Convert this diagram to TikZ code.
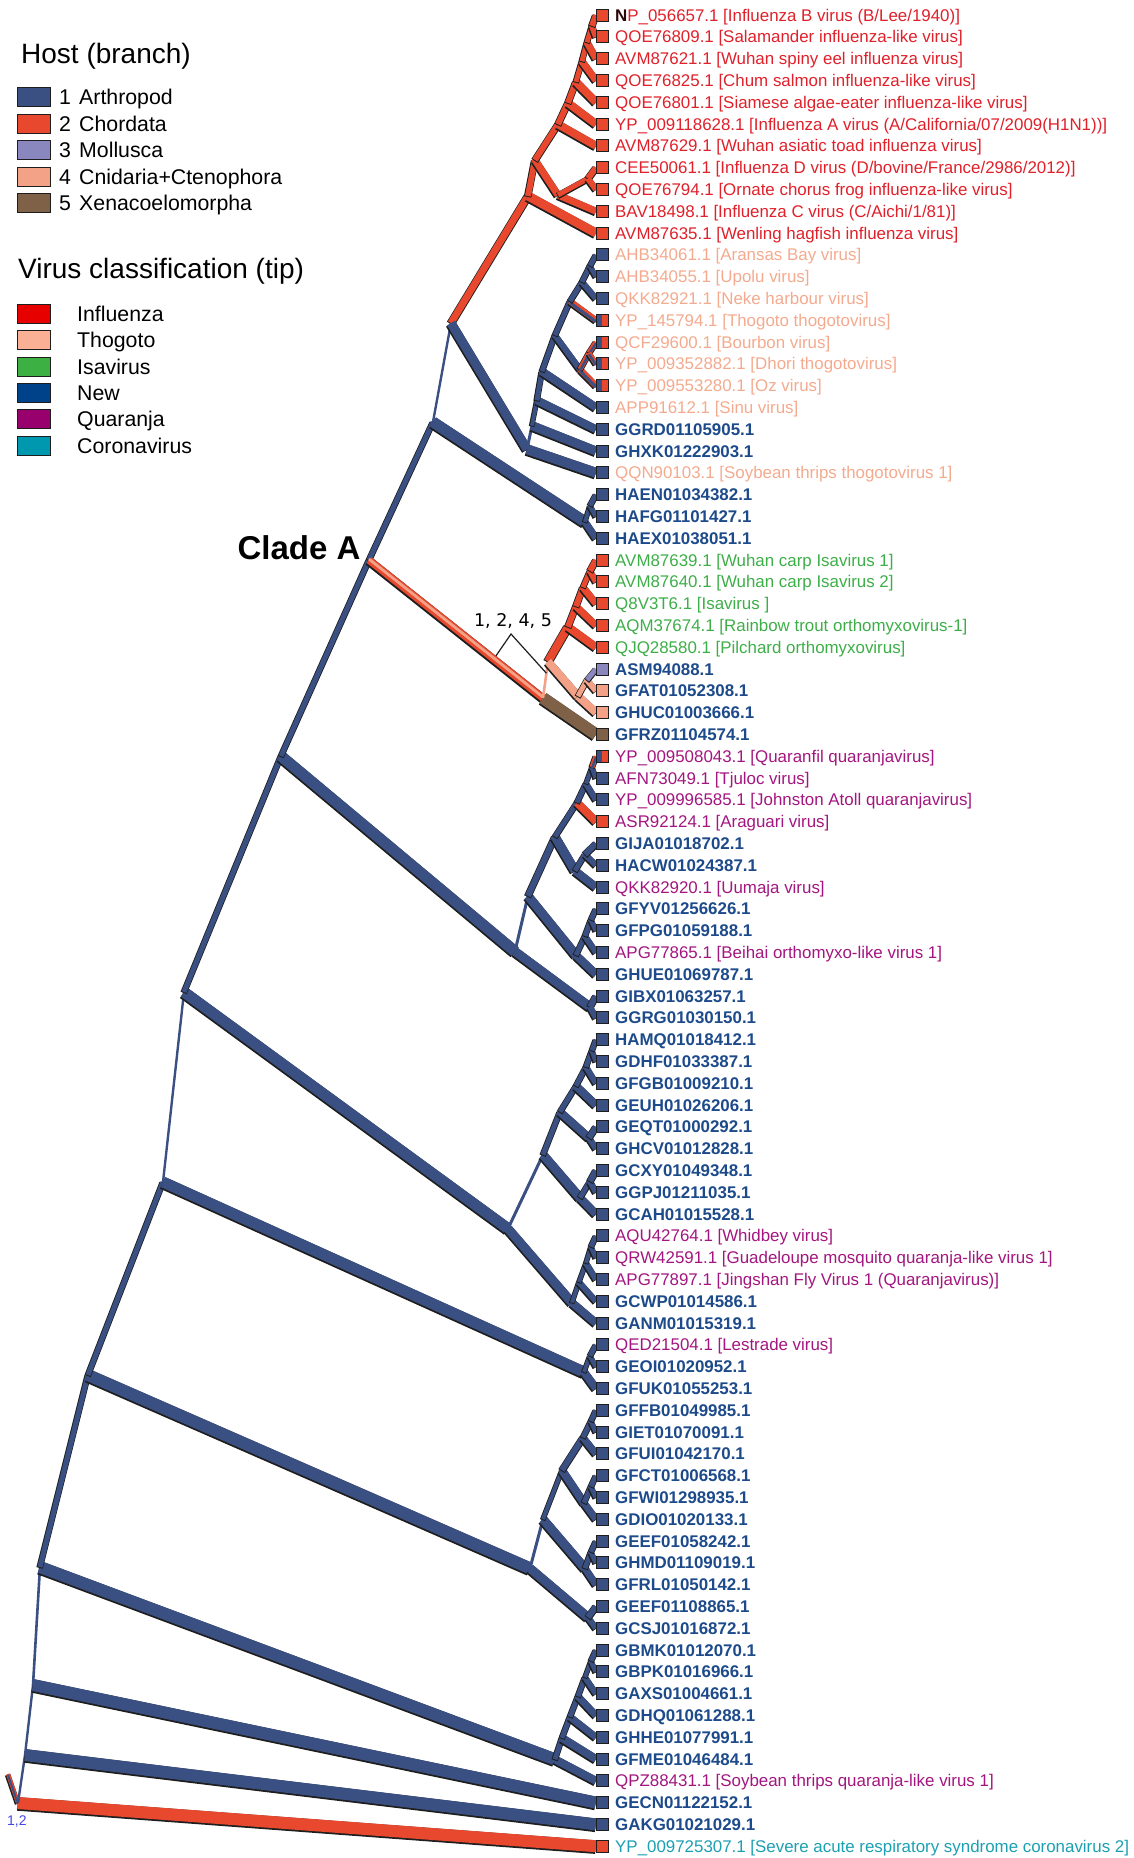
\documentclass[tikz,border=0pt]{standalone}
\usepackage{fontspec}
\setmainfont{Liberation Sans}
\newfontfamily\dejavu{DejaVu Sans}
\usetikzlibrary{calc}

\definecolor{arth}{HTML}{3A4F82}
\definecolor{chord}{HTML}{E8492E}
\definecolor{moll}{HTML}{8A86BE}
\definecolor{cnid}{HTML}{F4A287}
\definecolor{xena}{HTML}{7E6147}
\definecolor{brdk}{HTML}{1E1E1E}
\definecolor{flutxt}{HTML}{E0202A}
\definecolor{thogtxt}{HTML}{F4AA8E}
\definecolor{isatxt}{HTML}{3DAE48}
\definecolor{newtxt}{HTML}{1D4A8A}
\definecolor{quartxt}{HTML}{A3167F}
\definecolor{covtxt}{HTML}{1BA0B2}
\definecolor{flubox}{HTML}{E60000}
\definecolor{thogbox}{HTML}{F9B094}
\definecolor{isabox}{HTML}{3DB043}
\definecolor{newbox}{HTML}{00428A}
\definecolor{quarbox}{HTML}{98006E}
\definecolor{covbox}{HTML}{0098AE}
\definecolor{rootlbl}{HTML}{4646E6}

\tikzset{
  tipbox/.style={rectangle, draw=brdk, line width=0.9, minimum size=12, inner sep=0},
  halfbox/.style={fill=arth, path picture={\fill[chord] (path picture bounding box.north) rectangle (path picture bounding box.south east);}},
  lab/.style={anchor=base west, inner sep=0, font=\fontsize{16.9}{20}\selectfont},
  virflu/.style={lab, text=flutxt},
  virthog/.style={lab, text=thogtxt},
  virisa/.style={lab, text=isatxt},
  virnew/.style={lab, text=newtxt, font=\fontsize{16.9}{20}\selectfont\bfseries},
  virquar/.style={lab, text=quartxt},
  vircov/.style={lab, text=covtxt},
  legbox/.style={rectangle, draw=brdk, line width=1, minimum width=33, minimum height=19, inner sep=0},
  legtext/.style={anchor=base west, inner sep=0, font=\fontsize{21.3}{25}\selectfont},
  legtitle/.style={anchor=base west, inner sep=0, font=\fontsize{28}{32}\selectfont}
}

% branch: [width]{colour}{from}{to}
\newcommand\br[4][6]{%
  \ifdim #1pt>3pt
    \draw[brdk, line width=#1+1.6, transform canvas={xshift=-0.4pt, yshift=-0.9pt}] (#3) -- (#4);
  \fi
  \draw[#2, line width=#1] (#3) -- (#4);}
% branch shared by arthropod and chordate hosts
\newcommand\brs[3][6]{%
  \draw[brdk, line width=#1+1.6, transform canvas={xshift=-0.4pt, yshift=-0.9pt}] (#2) -- (#3);
  \draw[chord, line width=#1] (#2) -- (#3);
  \draw[arth, line width=#1/2, transform canvas={yshift={-#1*0.25pt}}] (#2) -- (#3);}
% tip: number, square, label style, text
\newcommand\tip[4]{%
  \node[tipbox,#2] (s#1) at (602,{15+(#1-1)*21.8}) {};
  \node[#3] (l#1) at (615,{21+(#1-1)*21.8}) {#4};}

\begin{document}
\begin{tikzpicture}[x=1pt,y=-1pt]
\useasboundingbox (0,0) rectangle (1133,1858);
\foreach \i in {1,...,85}
  \coordinate (t\i) at (596,{15+(\i-1)*21.8});

\coordinate (rs) at (8,1774);
\coordinate (R) at (18,1803);
\coordinate (B1) at (25,1755);
\coordinate (B2) at (33,1685);
\coordinate (B3) at (40,1567);
\coordinate (B4) at (88,1375);
\coordinate (B5) at (163,1182);
\coordinate (B6) at (184,992);
\coordinate (B7) at (281,756);
\coordinate (B8) at (369,560);
\coordinate (B9) at (433,422);
\coordinate (B10) at (451,323);

\coordinate (F1) at (528,196);
\coordinate (F2) at (535,160);
\coordinate (F3) at (558,195);
\coordinate (F3a) at (588,178.5);
\coordinate (F4) at (558,124.3);
\coordinate (c5) at (568,102.9);
\coordinate (c4) at (576,81.8);
\coordinate (c3) at (582,61.3);
\coordinate (c2) at (587,42.3);
\coordinate (c1) at (592,25.9);

\coordinate (T0) at (527,449.2);
\coordinate (T1) at (532,425.6);
\coordinate (T2) at (537,400.3);
\coordinate (T3) at (542,371.3);
\coordinate (T4) at (555,335.2);
\coordinate (Tt) at (570,301.2);
\coordinate (Tt2) at (582,282);
\coordinate (Tt3) at (590,265.7);
\coordinate (Td) at (580,369.3);
\coordinate (Td2) at (589,352.9);
\coordinate (Hn) at (585,521.9);
\coordinate (Hn2) at (590,505.5);

\coordinate (CA1) at (543,698);
\coordinate (CA2) at (548,661.5);
\coordinate (I0) at (568,626.8);
\coordinate (I1) at (576,606.3);
\coordinate (I2) at (583,587.3);
\coordinate (I3) at (590,570.9);
\coordinate (S0) at (578,696.2);
\coordinate (S1) at (587,679.9);

\coordinate (Q0) at (515,951.4);
\coordinate (Q1) at (528,895.9);
\coordinate (Q2) at (555,836.6);
\coordinate (Q3) at (577,802.5);
\coordinate (Q4) at (586,783.5);
\coordinate (Q5) at (592,767.1);
\coordinate (Qj) at (575,870.7);
\coordinate (Qi) at (585,854.3);
\coordinate (Qh) at (576,955.1);
\coordinate (Qh2) at (585,936);
\coordinate (Qh3) at (591,919.7);
\coordinate (Qg) at (590,1006.9);

\coordinate (P) at (508,1228.6);
\coordinate (P1) at (543,1154.7);
\coordinate (P1b) at (560,1111.8);
\coordinate (P1c) at (576,1085.9);
\coordinate (P1d) at (586,1066.9);
\coordinate (P1e) at (592,1050.5);
\coordinate (Pe) at (589,1137.7);
\coordinate (Pc) at (580,1197.7);
\coordinate (Pd) at (590,1181.3);
\coordinate (P2) at (572,1302.6);
\coordinate (P3) at (579,1282.1);
\coordinate (P4) at (586,1263);
\coordinate (P5) at (591,1246.7);

\coordinate (Qn) at (584,1372);
\coordinate (Qn2) at (590,1355.7);

\coordinate (H) at (530,1568.3);
\coordinate (H1) at (543,1519.2);
\coordinate (H2) at (562,1470.2);
\coordinate (He) at (583,1437.5);
\coordinate (He2) at (591,1421.1);
\coordinate (Hd) at (584,1502.9);
\coordinate (Hd2) at (591,1486.5);
\coordinate (Hc) at (585,1568.3);
\coordinate (Hc2) at (591,1551.9);
\coordinate (Hb) at (588,1617.3);

\coordinate (G) at (555,1759.3);
\coordinate (G1) at (562,1737.9);
\coordinate (G2) at (570,1716.8);
\coordinate (G3) at (578,1696.3);
\coordinate (G4) at (585,1677.3);
\coordinate (G5) at (591,1660.9);

% backbone
\brs[4]{rs}{R}
\br[12]{chord}{R}{t85}
\br[2.4]{arth}{R}{B1}
\br[12]{arth}{B1}{t84}
\br[2.4]{arth}{B1}{B2}
\br[12]{arth}{B2}{t83}
\br[2.6]{arth}{B2}{B3}
\br[12]{arth}{B3}{G}
\br[5]{arth}{B3}{B4}
\br[12]{arth}{B4}{H}
\br[5]{arth}{B4}{B5}
\br[11]{arth}{B5}{Qn}
\br[2.4]{arth}{B5}{B6}
\br[11]{arth}{B6}{P}
\br[5]{arth}{B6}{B7}
\br[11]{arth}{B7}{Q0}
\br[5]{arth}{B7}{B8}
\br[5]{arth}{B8}{B9}
\br[11]{arth}{B9}{Hn}
\br[2.4]{arth}{B9}{B10}
\br[7]{chord}{B10}{F1}
\br[9]{arth}{B10}{T0}

% influenza
\br[9]{chord}{F1}{t11}
\br[6]{chord}{F1}{F2}
\br[7]{chord}{F2}{F3}
\br[7]{chord}{F3}{t10}
\br[5]{chord}{F3}{F3a}
\br[6]{chord}{F3a}{t8}
\br[6]{chord}{F3a}{t9}
\br[6]{chord}{F2}{F4}
\br[8]{chord}{F4}{t7}
\br[6]{chord}{F4}{c5}
\br[8]{chord}{c5}{t6}
\br[6]{chord}{c5}{c4}
\br[8]{chord}{c4}{t5}
\br[5]{chord}{c4}{c3}
\br[7]{chord}{c3}{t4}
\br[5]{chord}{c3}{c2}
\br[7]{chord}{c2}{t3}
\br[5]{chord}{c2}{c1}
\br[6]{chord}{c1}{t2}
\br[6]{chord}{c1}{t1}

% thogoto
\br[10]{arth}{T0}{t22}
\br[3]{arth}{T0}{T1}
\br[9]{arth}{T1}{t21}
\br[4]{arth}{T1}{T2}
\br[8]{arth}{T2}{t20}
\br[5]{arth}{T2}{T3}
\br[8]{arth}{T3}{t19}
\br[5]{arth}{T3}{T4}
\br[6]{arth}{T4}{Td}
\brs[6]{Td}{t18}
\brs[5]{Td}{Td2}
\brs[5]{Td2}{t16}
\brs[5]{Td2}{t17}
\br[5]{arth}{T4}{Tt}
\brs[6]{Tt}{t15}
\br[5]{arth}{Tt}{Tt2}
\br[6]{arth}{Tt2}{t14}
\br[5]{arth}{Tt2}{Tt3}
\br[5]{arth}{Tt3}{t13}
\br[5]{arth}{Tt3}{t12}
\br[7]{arth}{Hn}{t25}
\br[4]{arth}{Hn}{Hn2}
\br[5]{arth}{Hn2}{t24}
\br[5]{arth}{Hn2}{t23}

% clade A
\draw[brdk, line width=9.4, transform canvas={xshift=-0.4pt, yshift=-0.9pt}] (B8) -- (CA1);
\draw[chord, line width=7.4] (B8) -- (CA1);
\draw[cnid, line width=2.8, transform canvas={yshift=0.9pt}] (B8) -- (CA1);
\br[12]{xena}{CA1}{t34}
\br[2.6]{cnid}{CA1}{CA2}
\br[8]{chord}{CA2}{I0}
\br[8]{chord}{I0}{t30}
\br[6]{chord}{I0}{I1}
\br[7]{chord}{I1}{t29}
\br[6]{chord}{I1}{I2}
\br[7]{chord}{I2}{t28}
\br[5]{chord}{I2}{I3}
\br[6]{chord}{I3}{t27}
\br[6]{chord}{I3}{t26}
\br[8]{cnid}{CA2}{S0}
\br[8]{cnid}{S0}{t33}
\br[5]{cnid}{S0}{S1}
\br[6]{cnid}{S1}{t32}
\br[5]{moll}{S1}{t31}

% quaranja
\br[9]{arth}{Q0}{Qg}
\br[6]{arth}{Qg}{t46}
\br[6]{arth}{Qg}{t47}
\br[3]{arth}{Q0}{Q1}
\br[9]{arth}{Q1}{Qh}
\br[8]{arth}{Qh}{t45}
\br[5]{arth}{Qh}{Qh2}
\br[6]{arth}{Qh2}{t44}
\br[5]{arth}{Qh2}{Qh3}
\br[5]{arth}{Qh3}{t43}
\br[5]{arth}{Qh3}{t42}
\br[6]{arth}{Q1}{Q2}
\br[9]{arth}{Q2}{Qj}
\br[8]{arth}{Qj}{t41}
\br[5]{arth}{Qj}{Qi}
\br[6]{arth}{Qi}{t40}
\br[6]{arth}{Qi}{t39}
\br[5]{arth}{Q2}{Q3}
\br[8]{chord}{Q3}{t38}
\br[5]{arth}{Q3}{Q4}
\br[6]{arth}{Q4}{t37}
\br[4]{arth}{Q4}{Q5}
\br[5]{arth}{Q5}{t36}
\brs[5]{Q5}{t35}

\br[3]{arth}{P}{P1}
\br[9]{arth}{P1}{Pc}
\br[8]{arth}{Pc}{t56}
\br[5]{arth}{Pc}{Pd}
\br[6]{arth}{Pd}{t55}
\br[6]{arth}{Pd}{t54}
\br[5]{arth}{P1}{P1b}
\br[8]{arth}{P1b}{Pe}
\br[6]{arth}{Pe}{t53}
\br[6]{arth}{Pe}{t52}
\br[5]{arth}{P1b}{P1c}
\br[8]{arth}{P1c}{t51}
\br[5]{arth}{P1c}{P1d}
\br[6]{arth}{P1d}{t50}
\br[5]{arth}{P1d}{P1e}
\br[5]{arth}{P1e}{t49}
\br[5]{arth}{P1e}{t48}
\br[9]{arth}{P}{P2}
\br[8]{arth}{P2}{t61}
\br[4]{arth}{P2}{P3}
\br[6]{arth}{P3}{t60}
\br[4]{arth}{P3}{P4}
\br[6]{arth}{P4}{t59}
\br[4]{arth}{P4}{P5}
\br[5]{arth}{P5}{t58}
\br[5]{arth}{P5}{t57}

\br[8]{arth}{Qn}{t64}
\br[4]{arth}{Qn}{Qn2}
\br[5]{arth}{Qn2}{t63}
\br[5]{arth}{Qn2}{t62}

\br[9]{arth}{H}{Hb}
\br[6]{arth}{Hb}{t75}
\br[6]{arth}{Hb}{t74}
\br[3]{arth}{H}{H1}
\br[9]{arth}{H1}{Hc}
\br[7]{arth}{Hc}{t73}
\br[5]{arth}{Hc}{Hc2}
\br[5]{arth}{Hc2}{t72}
\br[5]{arth}{Hc2}{t71}
\br[4]{arth}{H1}{H2}
\br[8]{arth}{H2}{Hd}
\br[7]{arth}{Hd}{t70}
\br[5]{arth}{Hd}{Hd2}
\br[5]{arth}{Hd2}{t69}
\br[5]{arth}{Hd2}{t68}
\br[6]{arth}{H2}{He}
\br[7]{arth}{He}{t67}
\br[5]{arth}{He}{He2}
\br[5]{arth}{He2}{t66}
\br[5]{arth}{He2}{t65}

\br[8]{arth}{G}{t82}
\br[5]{arth}{G}{G1}
\br[8]{arth}{G1}{t81}
\br[5]{arth}{G1}{G2}
\br[7]{arth}{G2}{t80}
\br[5]{arth}{G2}{G3}
\br[7]{arth}{G3}{t79}
\br[5]{arth}{G3}{G4}
\br[6]{arth}{G4}{t78}
\br[4]{arth}{G4}{G5}
\br[5]{arth}{G5}{t77}
\br[5]{arth}{G5}{t76}

% tips
\tip{1}{fill=chord}{virflu}{{\color{black!80!flutxt}\bfseries N}P\_056657.1 [Influenza B virus (B/Lee/1940)]}
\tip{2}{fill=chord}{virflu}{QOE76809.1 [Salamander influenza-like virus]}
\tip{3}{fill=chord}{virflu}{AVM87621.1 [Wuhan spiny eel influenza virus]}
\tip{4}{fill=chord}{virflu}{QOE76825.1 [Chum salmon influenza-like virus]}
\tip{5}{fill=chord}{virflu}{QOE76801.1 [Siamese algae-eater influenza-like virus]}
\tip{6}{fill=chord}{virflu}{YP\_009118628.1 [Influenza A virus (A/California/07/2009(H1N1))]}
\tip{7}{fill=chord}{virflu}{AVM87629.1 [Wuhan asiatic toad influenza virus]}
\tip{8}{fill=chord}{virflu}{CEE50061.1 [Influenza D virus (D/bovine/France/2986/2012)]}
\tip{9}{fill=chord}{virflu}{QOE76794.1 [Ornate chorus frog influenza-like virus]}
\tip{10}{fill=chord}{virflu}{BAV18498.1 [Influenza C virus (C/Aichi/1/81)]}
\tip{11}{fill=chord}{virflu}{AVM87635.1 [Wenling hagfish influenza virus]}
\tip{12}{fill=arth}{virthog}{AHB34061.1 [Aransas Bay virus]}
\tip{13}{fill=arth}{virthog}{AHB34055.1 [Upolu virus]}
\tip{14}{fill=arth}{virthog}{QKK82921.1 [Neke harbour virus]}
\tip{15}{halfbox}{virthog}{YP\_145794.1 [Thogoto thogotovirus]}
\tip{16}{halfbox}{virthog}{QCF29600.1 [Bourbon virus]}
\tip{17}{halfbox}{virthog}{YP\_009352882.1 [Dhori thogotovirus]}
\tip{18}{halfbox}{virthog}{YP\_009553280.1 [Oz virus]}
\tip{19}{fill=arth}{virthog}{APP91612.1 [Sinu virus]}
\tip{20}{fill=arth}{virnew}{GGRD01105905.1}
\tip{21}{fill=arth}{virnew}{GHXK01222903.1}
\tip{22}{fill=arth}{virthog}{QQN90103.1 [Soybean thrips thogotovirus 1]}
\tip{23}{fill=arth}{virnew}{HAEN01034382.1}
\tip{24}{fill=arth}{virnew}{HAFG01101427.1}
\tip{25}{fill=arth}{virnew}{HAEX01038051.1}
\tip{26}{fill=chord}{virisa}{AVM87639.1 [Wuhan carp Isavirus 1]}
\tip{27}{fill=chord}{virisa}{AVM87640.1 [Wuhan carp Isavirus 2]}
\tip{28}{fill=chord}{virisa}{Q8V3T6.1 [Isavirus ]}
\tip{29}{fill=chord}{virisa}{AQM37674.1 [Rainbow trout orthomyxovirus-1]}
\tip{30}{fill=chord}{virisa}{QJQ28580.1 [Pilchard orthomyxovirus]}
\tip{31}{fill=moll}{virnew}{ASM94088.1}
\tip{32}{fill=cnid}{virnew}{GFAT01052308.1}
\tip{33}{fill=cnid}{virnew}{GHUC01003666.1}
\tip{34}{fill=xena}{virnew}{GFRZ01104574.1}
\tip{35}{halfbox}{virquar}{YP\_009508043.1 [Quaranfil quaranjavirus]}
\tip{36}{fill=arth}{virquar}{AFN73049.1 [Tjuloc virus]}
\tip{37}{fill=arth}{virquar}{YP\_009996585.1 [Johnston Atoll quaranjavirus]}
\tip{38}{fill=chord}{virquar}{ASR92124.1 [Araguari virus]}
\tip{39}{fill=arth}{virnew}{GIJA01018702.1}
\tip{40}{fill=arth}{virnew}{HACW01024387.1}
\tip{41}{fill=arth}{virquar}{QKK82920.1 [Uumaja virus]}
\tip{42}{fill=arth}{virnew}{GFYV01256626.1}
\tip{43}{fill=arth}{virnew}{GFPG01059188.1}
\tip{44}{fill=arth}{virquar}{APG77865.1 [Beihai orthomyxo-like virus 1]}
\tip{45}{fill=arth}{virnew}{GHUE01069787.1}
\tip{46}{fill=arth}{virnew}{GIBX01063257.1}
\tip{47}{fill=arth}{virnew}{GGRG01030150.1}
\tip{48}{fill=arth}{virnew}{HAMQ01018412.1}
\tip{49}{fill=arth}{virnew}{GDHF01033387.1}
\tip{50}{fill=arth}{virnew}{GFGB01009210.1}
\tip{51}{fill=arth}{virnew}{GEUH01026206.1}
\tip{52}{fill=arth}{virnew}{GEQT01000292.1}
\tip{53}{fill=arth}{virnew}{GHCV01012828.1}
\tip{54}{fill=arth}{virnew}{GCXY01049348.1}
\tip{55}{fill=arth}{virnew}{GGPJ01211035.1}
\tip{56}{fill=arth}{virnew}{GCAH01015528.1}
\tip{57}{fill=arth}{virquar}{AQU42764.1 [Whidbey virus]}
\tip{58}{fill=arth}{virquar}{QRW42591.1 [Guadeloupe mosquito quaranja-like virus 1]}
\tip{59}{fill=arth}{virquar}{APG77897.1 [Jingshan Fly Virus 1 (Quaranjavirus)]}
\tip{60}{fill=arth}{virnew}{GCWP01014586.1}
\tip{61}{fill=arth}{virnew}{GANM01015319.1}
\tip{62}{fill=arth}{virquar}{QED21504.1 [Lestrade virus]}
\tip{63}{fill=arth}{virnew}{GEOI01020952.1}
\tip{64}{fill=arth}{virnew}{GFUK01055253.1}
\tip{65}{fill=arth}{virnew}{GFFB01049985.1}
\tip{66}{fill=arth}{virnew}{GIET01070091.1}
\tip{67}{fill=arth}{virnew}{GFUI01042170.1}
\tip{68}{fill=arth}{virnew}{GFCT01006568.1}
\tip{69}{fill=arth}{virnew}{GFWI01298935.1}
\tip{70}{fill=arth}{virnew}{GDIO01020133.1}
\tip{71}{fill=arth}{virnew}{GEEF01058242.1}
\tip{72}{fill=arth}{virnew}{GHMD01109019.1}
\tip{73}{fill=arth}{virnew}{GFRL01050142.1}
\tip{74}{fill=arth}{virnew}{GEEF01108865.1}
\tip{75}{fill=arth}{virnew}{GCSJ01016872.1}
\tip{76}{fill=arth}{virnew}{GBMK01012070.1}
\tip{77}{fill=arth}{virnew}{GBPK01016966.1}
\tip{78}{fill=arth}{virnew}{GAXS01004661.1}
\tip{79}{fill=arth}{virnew}{GDHQ01061288.1}
\tip{80}{fill=arth}{virnew}{GHHE01077991.1}
\tip{81}{fill=arth}{virnew}{GFME01046484.1}
\tip{82}{fill=arth}{virquar}{QPZ88431.1 [Soybean thrips quaranja-like virus 1]}
\tip{83}{fill=arth}{virnew}{GECN01122152.1}
\tip{84}{fill=arth}{virnew}{GAKG01021029.1}
\tip{85}{fill=chord}{vircov}{YP\_009725307.1 [Severe acute respiratory syndrome coronavirus 2]}

% labels on the tree
\node[anchor=base, inner sep=0, font=\fontsize{33}{38}\selectfont\bfseries] (cladeA) at (299,559) {Clade A};
\node[inner sep=0, font=\dejavu\fontsize{17.5}{20}\selectfont] (hosts) at (513,621) {1, 2, 4, 5};
\coordinate (brk) at (511,634);
\coordinate (k1) at ($(B8)!0.73!(CA1)+(0,-5)$);
\coordinate (k2) at ($(CA1)!0.68!(CA2)$);
\draw[brdk, line width=1.2] (k1) -- (brk) -- (k2);
\node[anchor=base west, inner sep=0, text=rootlbl, font=\fontsize{14}{16}\selectfont] (rootlab) at (7,1825) {1,2};

% legend
\node[legtitle] (hosttitle) at (21,63) {Host (branch)};
\foreach \n/\c/\t in {1/arth/Arthropod, 2/chord/Chordata, 3/moll/Mollusca, 4/cnid/Cnidaria+Ctenophora, 5/xena/Xenacoelomorpha} {
  \node[legbox, fill=\c] (hb\n) at (34,{97+(\n-1)*26.5}) {};
  \node[legtext] (hk\n) at (59,{104.6+(\n-1)*26.5}) {\n};
  \node[legtext] (hn\n) at (79,{104.6+(\n-1)*26.5}) {\t};
}
\node[legtitle] (virtitle) at (18,278) {Virus classification (tip)};
\foreach \n/\c/\t in {1/flubox/Influenza, 2/thogbox/Thogoto, 3/isabox/Isavirus, 4/newbox/New, 5/quarbox/Quaranja, 6/covbox/Coronavirus} {
  \node[legbox, fill=\c] (vb\n) at (34,{314+(\n-1)*26.3}) {};
  \node[legtext] (vn\n) at (77,{321.6+(\n-1)*26.3}) {\t};
}
\end{tikzpicture}
\end{document}
